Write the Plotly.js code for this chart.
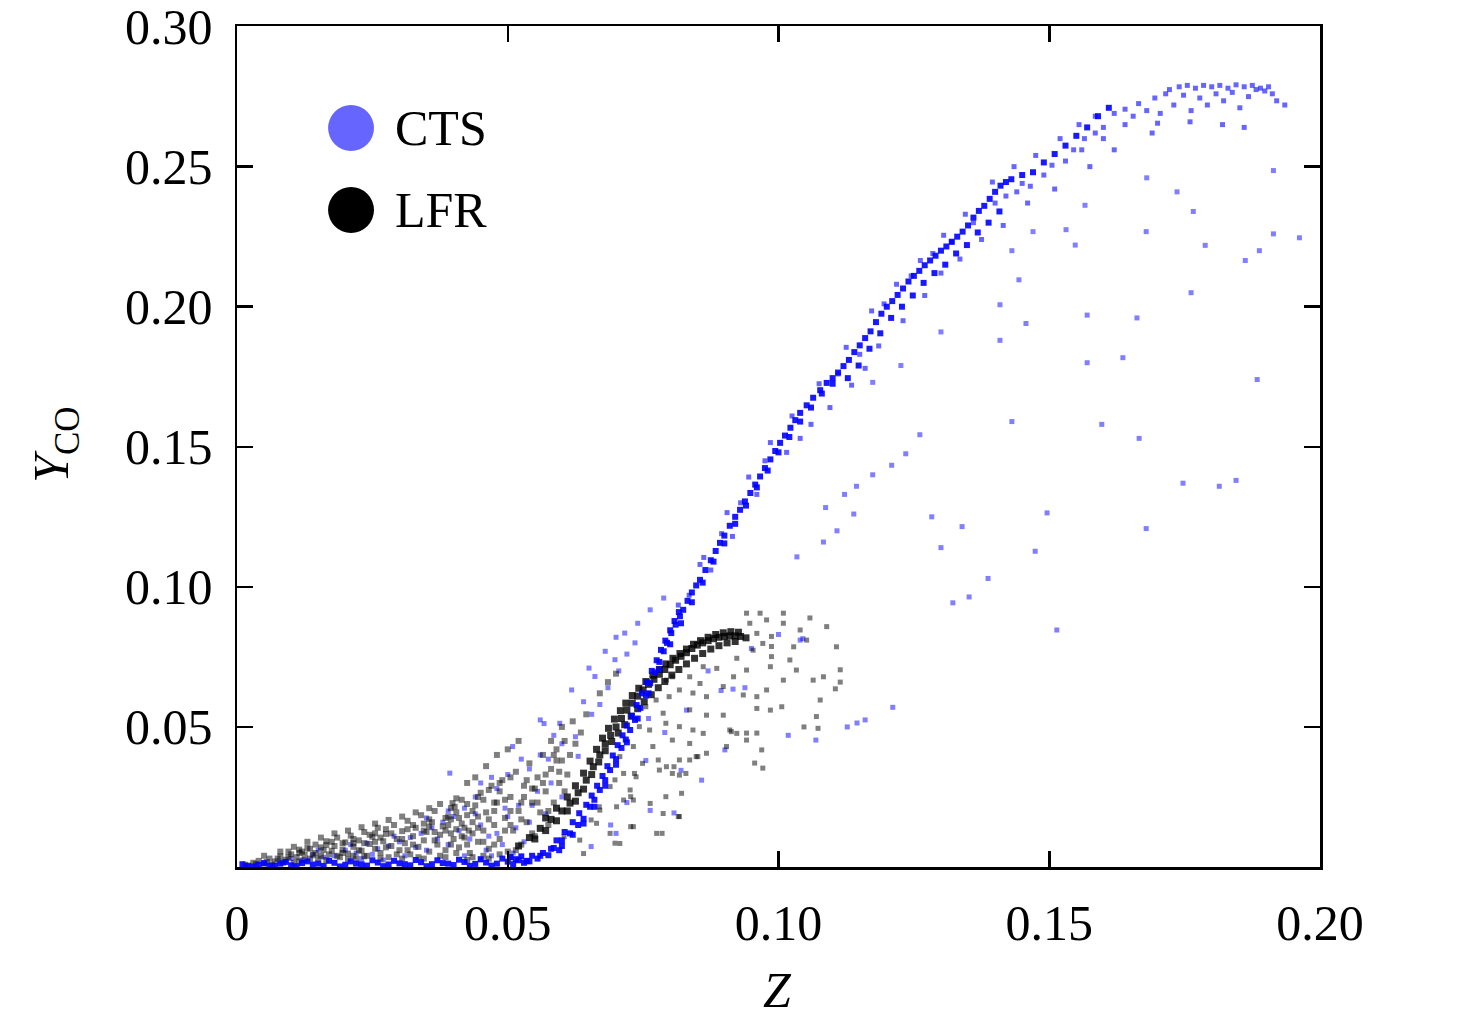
<!DOCTYPE html>
<html>
<head>
<meta charset="utf-8">
<script src="https://cdn.plot.ly/plotly-3.0.1.min.js"></script>
<style>
  html, body { margin: 0; padding: 0; background: #fff; }
  #chart { width: 1476px; height: 1022px; }
</style>
</head>
<body>
<div id="chart"></div>
<script>
// Z, Y_CO pairs

// CTS: dense band along the axis and the steep rise
const ctsCurve = [
  [0.002,0.0003],[0.004,0.0008],[0.006,0.0005],[0.008,0.0012],[0.010,0.0006],[0.012,0.0014],[0.014,0.0009],
  [0.016,0.0004],[0.018,0.0015],[0.020,0.0008],[0.022,0.0012],[0.024,0.0005],[0.026,0.0016],[0.028,0.0009],
  [0.030,0.0013],[0.032,0.0006],[0.034,0.0017],[0.036,0.0010],[0.038,0.0014],[0.040,0.0007],[0.042,0.0018],
  [0.044,0.0011],[0.046,0.0016],[0.048,0.0012],[0.050,0.0019],[0.051,0.0010],[0.052,0.0024],[0.053,0.0015],
  [0.001,0.0010],[0.003,0.0002],[0.005,0.0014],[0.007,0.0004],[0.009,0.0018],[0.011,0.0003],[0.013,0.0020],
  [0.015,0.0012],[0.017,0.0022],[0.019,0.0002],[0.021,0.0020],[0.023,0.0010],[0.025,0.0024],[0.027,0.0003],
  [0.029,0.0022],[0.031,0.0010],[0.033,0.0025],[0.035,0.0003],[0.037,0.0024],[0.039,0.0012],[0.041,0.0026],
  [0.043,0.0004],[0.045,0.0028],[0.047,0.0005],[0.049,0.0030],[0.0505,0.0035],[0.0515,0.0028],[0.0525,0.0038],
  [0.0535,0.0022],[0.0545,0.0040],[0.0555,0.0030],[0.0565,0.0050],[0.0575,0.0042],[0.0585,0.0068],[0.0595,0.0060],
  [0.054,0.0020],[0.056,0.0040],[0.058,0.0065],[0.060,0.0095],[0.0615,0.0120],[0.063,0.0150],[0.064,0.0172],
  [0.0652,0.0215],[0.066,0.0240],[0.067,0.0275],[0.068,0.0310],[0.0689,0.0346],[0.070,0.0385],[0.071,0.0425],
  [0.0718,0.0455],[0.0726,0.0489],[0.0735,0.0525],[0.0745,0.0568],[0.0755,0.0612],[0.0763,0.0656],[0.0772,0.0695],
  [0.078,0.0732],[0.0788,0.0770],[0.0794,0.0800],[0.0802,0.0835],[0.081,0.0865],[0.0818,0.0895],[0.0824,0.0918],
  [0.0832,0.0950],[0.084,0.0980],[0.0848,0.1005],[0.0855,0.1025],[0.0865,0.1060],[0.0875,0.1095],[0.0884,0.1128],
  [0.0892,0.1157],[0.090,0.1183],[0.091,0.1218],[0.092,0.1250],[0.0929,0.1275],[0.0938,0.1305],[0.0948,0.1335],
  [0.0957,0.1365],[0.0966,0.1394],[0.0975,0.1424],[0.0985,0.1455],[0.0994,0.1485],[0.1003,0.1514],[0.1012,0.1540],
  [0.1022,0.1568],[0.1031,0.1595],[0.104,0.1621],[0.1052,0.1648],[0.1064,0.1675],[0.1077,0.1702],[0.1089,0.1728],
  [0.110,0.1745],[0.111,0.1765],[0.112,0.1788],[0.113,0.1810],[0.114,0.1838],[0.115,0.1862],
  [0.116,0.1888],[0.117,0.1912],[0.118,0.1945],[0.119,0.1975],[0.120,0.2000],[0.121,0.2020],[0.122,0.2042],
  [0.123,0.2065],[0.124,0.2090],[0.125,0.2110],[0.126,0.2128],[0.127,0.2148],[0.128,0.2165],[0.129,0.2182],
  [0.130,0.2200],[0.131,0.2215],[0.132,0.2232],[0.133,0.2250],[0.134,0.2268],[0.135,0.2290],[0.136,0.2318],
  [0.137,0.2342],[0.138,0.2360],[0.139,0.2385],[0.140,0.2410],[0.141,0.2432],[0.142,0.2445],[0.143,0.2455],
  [0.145,0.2470],[0.147,0.2480],[0.149,0.2515],[0.151,0.2545],[0.153,0.2575],[0.155,0.2610],[0.157,0.2640],
  [0.159,0.2680],[0.161,0.2710],
  [0.060,0.0075],[0.062,0.0115],[0.064,0.0155],[0.066,0.0215],[0.068,0.0290],[0.070,0.0365],[0.072,0.0445],
  [0.074,0.0530],[0.076,0.0620],[0.078,0.0705],[0.080,0.0795],[0.082,0.0870],[0.084,0.0945],[0.086,0.1015],
  [0.088,0.1090],[0.090,0.1155],[0.092,0.1225],[0.094,0.1290],[0.096,0.1355],[0.098,0.1415],[0.100,0.1480],
  [0.102,0.1535],[0.104,0.1590],[0.106,0.1640],[0.108,0.1690],[0.110,0.1725],[0.1128,0.1745],[0.1148,0.1790],
  [0.1168,0.1850],[0.1188,0.1905],[0.1208,0.1960],[0.1228,0.2000],[0.1248,0.2040],[0.1268,0.2085],[0.1288,0.2120],
  [0.1308,0.2150],[0.1328,0.2190],[0.1348,0.2220],[0.1368,0.2265],[0.1388,0.2300],[0.1408,0.2340],
  [0.059,0.0095],[0.0605,0.0125],[0.062,0.0160],[0.0632,0.0192],[0.0645,0.0222],[0.0655,0.0255],[0.0665,0.0290],
  [0.0675,0.0325],[0.0684,0.0360],[0.0694,0.0398],[0.0703,0.0435],[0.0712,0.0470],[0.072,0.0505],[0.0729,0.0540],
  [0.0738,0.0578],[0.0748,0.0620],[0.0757,0.0660],[0.0766,0.0700],[0.0775,0.0738],[0.0783,0.0775],[0.0791,0.0808],
  [0.080,0.0845],[0.0808,0.0878],[0.0816,0.0910]
];

// CTS: upper strip and the cluster near the top
const ctsUpper = [
  [0.0815,0.0935],[0.0862,0.1105],[0.0905,0.1265],[0.0945,0.1392],[0.0985,0.1515],[0.1025,0.1610],[0.1075,0.1725],
  [0.1125,0.1855],[0.1172,0.1985],[0.1218,0.2080],[0.1262,0.2165],[0.1305,0.2255],[0.1345,0.2330],[0.1395,0.2445],
  [0.1435,0.2500],[0.1475,0.2540],[0.1520,0.2600],[0.1555,0.2650],[0.1585,0.2620],[0.1545,0.2560],[0.1505,0.2505],
  [0.1465,0.2430],[0.1440,0.2410],[0.1420,0.2395],
  [0.1015,0.1480],[0.1040,0.1530],[0.1060,0.1580],[0.1095,0.1640],[0.1110,0.1760],[0.1135,0.1720],[0.1150,0.1830],
  [0.1160,0.1780],[0.1185,0.1860],[0.1195,0.2010],[0.1230,0.1950],[0.1245,0.2110],[0.1270,0.2040],[0.1285,0.2190],
  [0.1300,0.2120],[0.1320,0.2230],[0.1335,0.2170],[0.1360,0.2300],[0.1375,0.2240],[0.1400,0.2370],[0.1415,0.2290],
  [0.1450,0.2440],[0.1460,0.2370],[0.1490,0.2470],[0.1510,0.2420],[0.1530,0.2520],[0.1560,0.2560],[0.1575,0.2500],
  [0.1600,0.2600],[0.1620,0.2560],[0.0960,0.1330],[0.0975,0.1450],[0.0930,0.1300],[0.0915,0.1180],[0.0895,0.1190],
  [0.0875,0.1060],[0.0855,0.1080],[0.0835,0.0970],
  [0.1620,0.2690],[0.1640,0.2705],[0.1655,0.2680],[0.1665,0.2725],[0.1680,0.2700],[0.1695,0.2745],[0.1705,0.2690],
  [0.1715,0.2760],[0.1722,0.2775],[0.1730,0.2720],[0.1740,0.2785],[0.1748,0.2755],[0.1755,0.2790],[0.1762,0.2700],
  [0.1770,0.2780],[0.1778,0.2745],[0.1785,0.2790],[0.1792,0.2720],[0.1800,0.2785],[0.1808,0.2760],[0.1815,0.2790],
  [0.1822,0.2735],[0.1830,0.2780],[0.1838,0.2765],[0.1845,0.2792],[0.1852,0.2710],[0.1860,0.2785],[0.1868,0.2750],
  [0.1875,0.2790],[0.1882,0.2775],[0.1890,0.2780],[0.1898,0.2770],[0.1905,0.2785],[0.1912,0.2760],[0.1920,0.2735],
  [0.1935,0.2720],[0.1640,0.2650],[0.1700,0.2655],[0.1760,0.2660],[0.1820,0.2650],[0.1860,0.2640],[0.1585,0.2680],
  [0.1600,0.2640],[0.1565,0.2600],[0.1690,0.2620]
];

// CTS: scattered points away from the band
const ctsSpread = [
  [0.168,0.246],[0.1736,0.241],[0.1766,0.234],[0.1914,0.2486],[0.1914,0.226],[0.1962,0.2246],[0.1888,0.220],
  [0.1862,0.2165],[0.1762,0.205],[0.1662,0.196],[0.157,0.197],[0.1457,0.194],[0.1409,0.2007],[0.1409,0.188],
  [0.130,0.191],[0.1636,0.1818],[0.157,0.180],[0.1226,0.179],[0.1174,0.173],[0.1884,0.174],[0.1431,0.159],
  [0.1597,0.158],[0.1666,0.153],[0.1261,0.1543],[0.1235,0.1475],[0.1209,0.1434],[0.1174,0.140],[0.1144,0.1359],
  [0.1122,0.133],[0.1087,0.1283],[0.1139,0.126],[0.1108,0.120],[0.1083,0.116],[0.1034,0.1107],[0.1283,0.125],
  [0.1339,0.1215],[0.1496,0.1264],[0.1474,0.1127],[0.130,0.114],[0.1387,0.103],[0.1322,0.0943],[0.1352,0.0964],
  [0.1679,0.1208],[0.1814,0.1359],[0.1845,0.138],[0.1788,0.2219],[0.1679,0.2268],[0.1531,0.2275],[0.147,0.2268],
  [0.1548,0.222],[0.1431,0.220],[0.1444,0.2096],[0.1566,0.2362],[0.1145,0.0514],[0.1160,0.0525],[0.1211,0.057],
  [0.1514,0.0846],[0.1747,0.137],
  [0.0716,0.0835],[0.0763,0.0918],[0.0788,0.096],[0.0698,0.074],[0.0661,0.068],[0.0618,0.0632],[0.056,0.0525],
  [0.0567,0.0512],[0.0509,0.043],[0.045,0.030],[0.0393,0.0335],[0.0625,0.0465],[0.0596,0.0513],[0.0858,0.031],
  [0.0901,0.0418],[0.0938,0.064],[0.104,0.081],[0.1045,0.0815],[0.1127,0.050],[0.1069,0.0453],[0.0807,0.0193],
  [0.0763,0.0202],[0.0654,0.0073],[0.0894,0.063],[0.0916,0.0635],[0.1018,0.047],
  [0.0640,0.0590],[0.0655,0.0545],[0.0600,0.0440],[0.0585,0.0470],[0.0575,0.0385],[0.0630,0.0395],[0.0670,0.0580],
  [0.0685,0.0640],[0.0705,0.0700],[0.0720,0.0760],[0.0735,0.0800],[0.0740,0.0870],[0.0700,0.0820],[0.0680,0.0770],
  [0.0650,0.0710],[0.0560,0.0400],[0.0540,0.0350],[0.0525,0.0385],[0.0500,0.0330],[0.0480,0.0280],[0.0470,0.0320],
  [0.0440,0.0250],[0.0420,0.0210],[0.0400,0.0180],[0.0380,0.0160],[0.0360,0.0140],[0.0340,0.0120],[0.0320,0.0105],
  [0.0300,0.0090],[0.0280,0.0075],[0.0260,0.0065],[0.0240,0.0085],[0.0220,0.0050],[0.0200,0.0060],[0.0180,0.0040],
  [0.0160,0.0035],[0.0140,0.0045],[0.0120,0.0025],[0.0100,0.0030],[0.0080,0.0020],[0.0450,0.0150],[0.0480,0.0120],
  [0.0500,0.0180],[0.0520,0.0220],[0.0540,0.0160],[0.0555,0.0270],[0.0580,0.0300],[0.0600,0.0250],[0.0430,0.0100],
  [0.0390,0.0080],[0.0350,0.0060],[0.0460,0.0060],[0.0490,0.0080],[0.0510,0.0050],[0.0530,0.0090],[0.0470,0.0040],
  [0.0760,0.0530],[0.0790,0.0480],[0.0830,0.0560],[0.0870,0.0700],[0.0950,0.0780],[0.1000,0.0830],[0.0820,0.0345],
  [0.0720,0.0230],[0.0690,0.0150],[0.0755,0.0380],[0.0700,0.0120],
  [0.0150,0.0060],[0.0210,0.0080],[0.0250,0.0045],[0.0290,0.0110],[0.0330,0.0070],[0.0370,0.0100],[0.0410,0.0130],
  [0.0440,0.0190],[0.0465,0.0110],[0.0495,0.0210],[0.0515,0.0140],[0.0545,0.0220],[0.0570,0.0190],[0.0390,0.0200],
  [0.0350,0.0175],[0.0310,0.0040],[0.0270,0.0025],[0.0230,0.0030],[0.0420,0.0040],[0.0450,0.0025]
];

// LFR: wedge of points above the axis, Z < 0.065
const lfrBase = [
  [0.0015,0.0008],[0.003,0.0015],[0.004,0.0022],[0.005,0.0012],[0.006,0.0030],[0.007,0.0020],[0.008,0.0038],
  [0.009,0.0026],[0.010,0.0045],[0.0105,0.0015],
  [0.011,0.0035],[0.012,0.0055],[0.0125,0.0025],[0.013,0.0068],[0.014,0.0042],[0.0145,0.0080],[0.015,0.0030],
  [0.016,0.0060],[0.0165,0.0092],[0.017,0.0045],[0.018,0.0075],[0.0185,0.0105],[0.019,0.0035],[0.0195,0.0062],
  [0.020,0.0088],
  [0.0205,0.0048],[0.021,0.0112],[0.0215,0.0072],[0.022,0.0030],[0.0225,0.0095],[0.023,0.0058],[0.0235,0.0125],
  [0.024,0.0040],[0.0245,0.0082],[0.025,0.0108],[0.0255,0.0065],[0.026,0.0140],[0.0265,0.0050],[0.027,0.0092],
  [0.0275,0.0118],[0.028,0.0035],[0.0285,0.0075],[0.029,0.0150],[0.0295,0.0100],[0.030,0.0060],
  [0.0305,0.0128],[0.031,0.0085],[0.0315,0.0165],[0.032,0.0045],[0.0325,0.0110],[0.033,0.0140],[0.0335,0.0072],
  [0.034,0.0185],[0.0345,0.0095],[0.035,0.0125],[0.0355,0.0055],[0.036,0.0160],[0.0365,0.0200],[0.037,0.0080],
  [0.0375,0.0115],[0.038,0.0145],[0.0385,0.0060],[0.039,0.0180],[0.0395,0.0210],[0.040,0.0100],
  [0.0398,0.0228],[0.0402,0.0215],[0.0405,0.0195],[0.0395,0.0170],[0.0410,0.0175],[0.0415,0.0155],[0.0420,0.0140],
  [0.0428,0.0130],[0.0435,0.0120],[0.0390,0.0150],[0.0385,0.0130],
  [0.0405,0.0135],[0.041,0.0070],[0.0415,0.0240],[0.042,0.0105],[0.0425,0.0185],[0.043,0.0050],[0.0435,0.0160],
  [0.044,0.0220],[0.0445,0.0090],[0.045,0.0265],[0.0455,0.0130],[0.046,0.0195],[0.0465,0.0065],[0.047,0.0290],
  [0.0475,0.0150],[0.048,0.0230],[0.0485,0.0100],[0.049,0.0310],[0.0495,0.0175],[0.050,0.0055],[0.0435,0.0035],
  [0.0455,0.0040],[0.0485,0.0045],
  [0.0505,0.0250],[0.051,0.0130],[0.0515,0.0340],[0.052,0.0200],[0.0525,0.0080],[0.053,0.0290],[0.0535,0.0160],
  [0.054,0.0370],[0.0545,0.0230],[0.055,0.0110],[0.0555,0.0320],[0.056,0.0195],[0.0565,0.0400],[0.057,0.0270],
  [0.0575,0.0150],[0.058,0.0350],[0.0585,0.0230],[0.059,0.0420],[0.0595,0.0300],[0.060,0.0380],[0.0605,0.0450],
  [0.061,0.0330],
  [0.058,0.0450],[0.060,0.0500],[0.062,0.0520],[0.0635,0.0480],[0.0645,0.0545],[0.0670,0.0620],
  [0.0590,0.0380],[0.0570,0.0330],[0.0550,0.0280],[0.0685,0.0660],[0.0700,0.0690],
  [0.0530,0.0250],[0.046,0.036],[0.048,0.040],[0.050,0.042],[0.052,0.045],[0.044,0.032],[0.0425,0.030],
  [0.002,0.0005],[0.0035,0.0010],[0.0055,0.0018],[0.0065,0.0008],[0.0075,0.0030],[0.0085,0.0015],[0.0095,0.0035],
  [0.0115,0.0020],[0.0125,0.0045],[0.0135,0.0030],[0.0145,0.0050],[0.0155,0.0070],[0.0165,0.0025],[0.0175,0.0058],
  [0.0185,0.0040],[0.0195,0.0085],[0.0205,0.0028],[0.0215,0.0100],[0.0225,0.0060],[0.0235,0.0038],[0.0245,0.0115],
  [0.0255,0.0090],[0.0265,0.0030],[0.0275,0.0070],[0.0285,0.0120],[0.0295,0.0045],[0.0305,0.0100],[0.0315,0.0060],
  [0.0325,0.0150],[0.0335,0.0035],[0.0345,0.0130],[0.0355,0.0170],[0.0365,0.0095],[0.0375,0.0040],[0.0385,0.0175],
  [0.0395,0.0080],[0.0405,0.0050],[0.0415,0.0110],[0.0425,0.0080],[0.0435,0.0200],[0.0445,0.0140],[0.0455,0.0240],
  [0.0465,0.0170],[0.0475,0.0080],[0.0485,0.0270],[0.0495,0.0130],[0.0505,0.0200],[0.0515,0.0060],[0.0525,0.0170],
  [0.0535,0.0310],[0.0545,0.0120],[0.0555,0.0230],[0.0565,0.0300],[0.0575,0.0200],[0.0585,0.0400],[0.0595,0.0340],
  [0.0605,0.0270],[0.0615,0.0400],[0.0625,0.0440],[0.0495,0.0240],[0.0475,0.0200],[0.0455,0.0090],[0.0365,0.0125],
  [0.0345,0.0155],[0.0325,0.0080],[0.0275,0.0135],[0.0255,0.0120],[0.0235,0.0085],[0.0215,0.0040],[0.0195,0.0050],
  [0.0175,0.0090],[0.0155,0.0040],[0.0135,0.0065],[0.0115,0.0050],[0.0095,0.0055],[0.0305,0.0030],[0.0345,0.0030],
  [0.0385,0.0035],[0.0425,0.0025],[0.0465,0.0030],[0.0505,0.0035],
  [0.005,0.0040],[0.008,0.0055],[0.0105,0.0072],[0.013,0.0090],[0.0155,0.0105],[0.018,0.0120],[0.0205,0.0130],
  [0.023,0.0142],[0.0255,0.0155],[0.028,0.0168],[0.0305,0.0180],[0.033,0.0195],[0.0355,0.0210],[0.0375,0.0225],
  [0.0405,0.0245],[0.0425,0.0225],[0.0445,0.0250],[0.0465,0.0275],[0.0485,0.0300],[0.0505,0.0320],[0.0115,0.0062],
  [0.0165,0.0078],[0.0215,0.0085],[0.0265,0.0105],[0.0315,0.0135],[0.0355,0.0145],[0.0395,0.0120],[0.0445,0.0180],
  [0.0475,0.0230],[0.0505,0.0150],[0.0525,0.0230],[0.0545,0.0280]
];

// LFR: the dark curve that levels off near 0.082
const lfrCurve = [
  [0.052,0.0075],[0.054,0.0105],[0.056,0.0138],[0.058,0.0170],[0.060,0.0200],[0.0615,0.0228],[0.063,0.0265],
  [0.0645,0.0310],[0.0658,0.0358],[0.067,0.0400],[0.068,0.0440],[0.069,0.0470],[0.070,0.0500],[0.071,0.0530],
  [0.072,0.0560],[0.073,0.0585],[0.074,0.0610],[0.075,0.0632],[0.076,0.0652],[0.077,0.0670],[0.078,0.0688],
  [0.079,0.0705],[0.080,0.0722],[0.081,0.0738],[0.082,0.0752],[0.083,0.0765],[0.084,0.0780],[0.085,0.0792],
  [0.086,0.0800],[0.087,0.0808],[0.088,0.0815],[0.089,0.0820],[0.090,0.0823],[0.091,0.0825],[0.092,0.0825],
  [0.093,0.0823],[0.094,0.0818],
  [0.057,0.0175],[0.059,0.0210],[0.061,0.0250],[0.0625,0.0290],[0.064,0.0335],[0.0652,0.0378],[0.0664,0.0420],
  [0.0675,0.0460],[0.0686,0.0495],[0.0697,0.0528],[0.0708,0.0558],[0.0718,0.0585],[0.073,0.0612],[0.0742,0.0638],
  [0.0755,0.0662],[0.0768,0.0685],[0.078,0.0705],[0.0792,0.0725],[0.0805,0.0745],[0.0818,0.0762],[0.083,0.0778],
  [0.0843,0.0795],[0.0856,0.0808],[0.087,0.0820],[0.0884,0.0830],[0.0898,0.0836],[0.0912,0.0840],[0.0926,0.0838],
  [0.055,0.0100],[0.057,0.0130],[0.059,0.0165],[0.061,0.0200],[0.0625,0.0235],[0.064,0.0278],[0.0655,0.0330],
  [0.0668,0.0375],[0.068,0.0415],[0.0692,0.0448],[0.0704,0.0478],[0.0716,0.0508],[0.0728,0.0538],[0.074,0.0565],
  [0.0752,0.0590],[0.0765,0.0615],[0.0778,0.0640],[0.079,0.0662],[0.0803,0.0685],[0.0816,0.0705],[0.083,0.0725],
  [0.0845,0.0745],[0.086,0.0762],[0.0875,0.0778],[0.089,0.0790],[0.0905,0.0800],[0.092,0.0805]
];

// LFR: scattered cloud right of the curves
const lfrSpread = [
  [0.0941,0.0906],[0.0966,0.0906],[0.1009,0.0906],[0.1058,0.0889],[0.1089,0.0858],[0.1107,0.0786],[0.1114,0.0704],
  [0.1114,0.0660],[0.1105,0.0636],[0.1077,0.0596],[0.1070,0.0537],[0.1073,0.0495],[0.1047,0.0500],[0.0971,0.0353],
  [0.0956,0.0371],[0.0969,0.0418],[0.0960,0.0478],[0.0941,0.0478],[0.0913,0.0483],[0.0987,0.0787],[0.0987,0.0751],
  [0.0987,0.0823],[0.0985,0.0715],[0.1021,0.0739],[0.1028,0.0786],[0.1052,0.0810],[0.1040,0.0846],[0.1009,0.0870],
  [0.0978,0.0882],[0.0947,0.0870],[0.0960,0.0834],[0.0953,0.0774],[0.0971,0.0798],[0.0923,0.0745],[0.0941,0.0703],
  [0.0917,0.0679],[0.0886,0.0709],[0.0898,0.0644],[0.0935,0.0614],[0.0960,0.0608],[0.0960,0.0566],[0.0985,0.0560],
  [0.1006,0.0572],[0.0978,0.0632],[0.1009,0.0667],[0.1033,0.0703],[0.1064,0.0667],[0.1083,0.0679],
  [0.0867,0.0608],[0.0842,0.0621],[0.0817,0.0632],[0.0798,0.0608],[0.0836,0.0561],[0.0867,0.0542],[0.0898,0.0542],
  [0.0910,0.0489],[0.0923,0.0477],[0.0941,0.0453],[0.0904,0.0430],[0.0861,0.0477],[0.0842,0.0489],[0.0817,0.0501],
  [0.0792,0.0513],[0.0804,0.0453],[0.0836,0.0441],[0.0867,0.0406],[0.0848,0.0394],[0.0817,0.0382],[0.0793,0.0358],
  [0.0780,0.0346],[0.0804,0.0334],[0.0817,0.0328],[0.0749,0.0370],[0.0737,0.0322],[0.0726,0.0275],[0.0714,0.0239],
  [0.0701,0.0215],[0.0732,0.0239],[0.0763,0.0227],[0.0787,0.0191],[0.0817,0.0180],[0.0775,0.0120],[0.0732,0.0144],
  [0.0707,0.0084],[0.0689,0.0120],[0.0664,0.0156],[0.0670,0.0203],[0.0689,0.0287],[0.0714,0.0334],[0.0707,0.0394],
  [0.0732,0.0430],[0.0768,0.0430],[0.0762,0.0489],[0.0787,0.0549],[0.0755,0.0572],[0.0743,0.0501],[0.0774,0.0596],
  [0.0804,0.0679],[0.0836,0.0679],[0.0861,0.0715],[0.0855,0.0655],[0.0793,0.0667],
  [0.0604,0.0108],[0.0633,0.0096],[0.0654,0.0168],[0.0669,0.0215],[0.0698,0.0085],[0.0727,0.0144],[0.0640,0.0048],
  [0.0727,0.0251],[0.0698,0.0311],[0.0734,0.0334],[0.0792,0.0251],[0.0821,0.0263],[0.0785,0.0120],[0.0778,0.0382],
  [0.0807,0.0358],[0.0836,0.0382],[0.0851,0.0394],[0.0829,0.0334],[0.0815,0.0180]
];

const toX = (pts) => pts.map((p) => p[0]);
const toY = (pts) => pts.map((p) => p[1]);

const serif = "Liberation Serif, Times New Roman, serif";

function dots(pts, name, color, size, opacity) {
  return {
    x: toX(pts),
    y: toY(pts),
    type: "scatter",
    mode: "markers",
    name: name,
    marker: { color: color, size: size, symbol: "square", opacity: opacity, line: { width: 0 } },
    hoverinfo: "skip",
  };
}

const data = [
  dots(ctsSpread, "CTS", "#0000ff", 5, 0.5),
  dots(lfrBase, "LFR", "#000000", 6, 0.5),
  dots(lfrSpread, "LFR", "#000000", 5, 0.5),
  dots(lfrCurve, "LFR", "#000000", 7, 0.8),
  dots(ctsCurve, "CTS", "#0000ff", 6, 0.9),
  dots(ctsUpper, "CTS", "#0000ff", 5, 0.6),
];

const axisStyle = {
  showline: true,
  linecolor: "#000",
  linewidth: 2.5,
  mirror: "ticks",
  ticks: "inside",
  ticklen: 16,
  tickwidth: 2.5,
  tickcolor: "#000",
  showgrid: false,
  zeroline: false,
  ticklabeloverflow: "allow",
  tickfont: { family: serif, size: 50, color: "#000" },
};

const layout = {
  width: 1476,
  height: 1022,
  margin: { t: 26, l: 237, r: 156, b: 155 },
  paper_bgcolor: "#fff",
  plot_bgcolor: "#fff",
  showlegend: false,
  xaxis: Object.assign({}, axisStyle, {
    range: [0, 0.2],
    tickvals: [0, 0.05, 0.1, 0.15, 0.2],
    ticktext: ["0", "0.05", "0.10", "0.15", "0.20"],
    ticklabelstandoff: 10,
  }),
  yaxis: Object.assign({}, axisStyle, {
    range: [0, 0.3002],
    tickvals: [0.05, 0.1, 0.15, 0.2, 0.25, 0.3],
    ticktext: ["0.05", "0.10", "0.15", "0.20", "0.25", "0.30"],
    ticklabelstandoff: 12,
  }),
  shapes: [
    { type: "circle", xref: "paper", yref: "paper", x0: 0.0841, x1: 0.1265, y0: 0.8514, y1: 0.9061,
      fillcolor: "#6666ff", line: { width: 0 } },
    { type: "circle", xref: "paper", yref: "paper", x0: 0.0841, x1: 0.1265, y0: 0.7539, y1: 0.8086,
      fillcolor: "#000000", line: { width: 0 } },
  ],
  annotations: [
    { text: "CTS", xref: "paper", yref: "paper", x: 0.144, y: 0.8787, xanchor: "left", yanchor: "middle",
      showarrow: false, font: { family: serif, size: 50, color: "#000" } },
    { text: "LFR", xref: "paper", yref: "paper", x: 0.144, y: 0.7812, xanchor: "left", yanchor: "middle",
      showarrow: false, font: { family: serif, size: 50, color: "#000" } },
    { text: "<i>Z</i>", xref: "paper", yref: "paper", x: 0.4995, y: -0.146, xanchor: "center", yanchor: "middle",
      showarrow: false, font: { family: serif, size: 50, color: "#000" } },
    { text: "<i>Y</i><sub>CO</sub>", xref: "paper", yref: "paper", x: -0.168, y: 0.502, xanchor: "center",
      yanchor: "middle", textangle: -90, showarrow: false, font: { family: serif, size: 50, color: "#000" } },
  ],
};

Plotly.newPlot("chart", data, layout, { displayModeBar: false, staticPlot: true });
</script>
</body>
</html>
